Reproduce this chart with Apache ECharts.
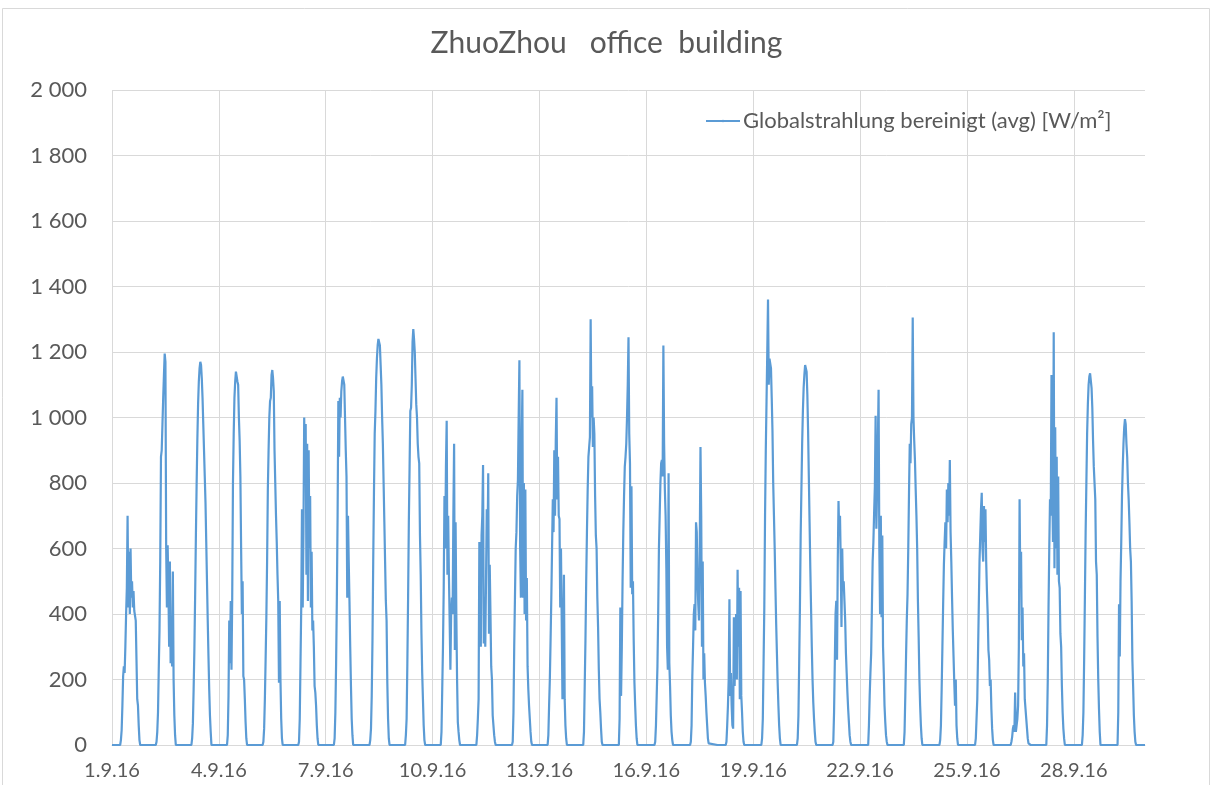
<!DOCTYPE html>
<html>
<head>
<meta charset="utf-8">
<script src="https://cdn.jsdelivr.net/npm/echarts@6/dist/echarts.min.js"></script>
<style>
  html, body { margin: 0; padding: 0; background: #fff; }
  #cht { width: 1213px; height: 785px; }
</style>
</head>
<body>
<div id="cht"></div>
<script>
// sample times of each day (hours), midnight points keep the line on zero at night
var sampleHours = [0, 5.5, 6, 6.5, 7, 7.5, 8, 8.5, 9, 9.5, 10, 10.5, 11, 11.5, 12, 12.5,
  13, 13.5, 14, 14.5, 15, 15.5, 16, 16.5, 17, 17.5, 18, 18.5, 19, 24];

// x tick labels, one every 3 days (72 h)
var tickLabels = ['1.9.16', '4.9.16', '7.9.16', '10.9.16', '13.9.16', '16.9.16',
  '19.9.16', '22.9.16', '25.9.16', '28.9.16'];

var seriesName = 'Globalstrahlung bereinigt (avg) [W/m\u00b2]';

// Globalstrahlung per day [W/m²]
var sep01 = [0, 0,15,45,120,210,240,220,300,400,480,700,420,590,400,600,450,500,420,470,410,410,380,260,140,120,60,15,0, 0];
var sep02 = [0, 0,10,40,100,230,350,560,880,900,980,1060,1130,1195,1170,600,420,610,480,300,560,250,380,240,530,200,90,30,0, 0];
var sep03 = [0, 0,20,66,170,290,450,630,790,930,1040,1110,1150,1170,1160,1120,1060,980,900,820,740,620,500,380,270,170,90,40,0, 0];
var sep04 = [0, 0,30,150,380,250,440,230,450,800,950,1060,1110,1140,1145,1110,1100,1000,930,820,600,400,500,210,200,140,70,20,0, 0];
var sep05 = [0, 0,10,50,140,260,390,560,780,900,1000,1050,1060,1130,1145,1120,1080,900,800,700,620,520,440,190,440,200,80,20,0, 0];
var sep06 = [0, 0,10,80,250,420,720,420,650,1000,820,980,520,920,440,900,600,760,420,590,350,380,300,180,160,120,60,20,0, 0];
var sep07 = [0, 0,20,100,250,450,700,1050,880,1060,1000,1080,1110,1125,1130,1100,1000,900,820,450,700,560,440,300,180,80,30,0,0, 0];
var sep08 = [0, 0,15,50,150,320,560,770,950,1020,1120,1180,1220,1240,1245,1220,1160,1100,1000,920,800,680,560,440,380,190,80,20,0, 0];
var sep09 = [0, 0,30,80,250,450,680,850,1020,1030,1100,1230,1270,1240,1200,1120,1040,1000,920,880,860,640,520,340,220,140,60,15,0, 0];
var sep10 = [0, 0,40,170,300,480,760,600,850,990,520,700,520,380,230,400,450,400,700,920,290,680,400,200,70,40,15,0,0, 0];
var sep11 = [0, 0,30,80,140,620,400,300,640,700,855,310,450,300,500,720,600,830,340,550,400,240,200,90,60,30,10,0,0, 0];
var sep12 = [0, 0,10,100,300,450,600,650,760,810,1000,1175,600,450,900,1085,450,800,400,780,380,510,240,170,120,80,40,10,0, 0];
var sep13 = [0, 0,30,120,200,320,450,600,750,650,900,700,930,1060,750,880,700,690,420,600,380,140,300,520,140,60,20,0,0, 0];
var sep14 = [0, 0,40,180,320,500,650,780,880,910,940,1300,1000,1095,910,1000,950,760,640,600,450,360,230,140,100,50,10,0,0, 0];
var sep15 = [0, 0,80,420,150,300,500,650,760,850,880,920,1000,1100,1245,950,860,480,790,460,500,320,190,120,60,20,0,0,0, 0];
var sep16 = [0, 0,10,60,150,240,400,600,700,800,860,870,820,1220,920,780,700,540,300,230,830,250,180,90,40,15,0,0,0, 0];
var sep17 = [0, 0,10,60,210,300,400,430,350,680,650,500,430,380,600,910,700,300,560,200,280,190,150,100,60,20,5,0,0, 0];
var sep18 = [0, 0,10,60,120,200,445,150,220,120,60,50,390,180,300,400,200,535,300,480,140,470,150,100,40,10,0,0,0, 0];
var sep19 = [0, 0,20,80,250,420,700,900,1050,1200,1360,1100,1180,1185,1150,1060,960,800,700,600,480,370,280,190,120,60,20,0,0, 0];
var sep20 = [0, 0,20,90,250,420,640,780,920,1020,1090,1130,1160,1165,1140,1070,960,820,680,540,420,300,200,130,80,40,10,0,0, 0];
var sep21 = [0, 0,10,100,250,400,440,260,560,745,640,700,560,360,600,470,500,440,380,280,220,160,110,70,30,10,0,0,0, 0];
var sep22 = [0, 0,60,150,220,280,420,560,620,710,790,1005,660,780,920,1085,600,400,700,390,640,300,220,120,70,30,10,0,0, 0];
var sep23 = [0, 0,40,150,270,380,460,600,770,920,860,980,1000,1305,1000,930,870,780,700,600,440,330,200,120,60,20,0,0,0, 0];
var sep24 = [0, 0,15,60,170,300,430,550,620,680,600,780,680,800,700,870,650,560,450,350,270,190,120,200,60,20,0,0,0, 0];
var sep25 = [0, 0,20,80,140,280,420,560,640,720,770,600,560,730,620,720,560,470,400,290,260,180,200,110,50,15,0,0,0, 0];
var sep26 = [0, 0,10,25,50,60,40,160,40,60,80,120,300,750,480,590,320,420,240,280,140,110,80,50,20,5,0,0,0, 0];
var sep27 = [0, 0,60,200,420,600,750,700,1130,800,620,1260,540,970,600,880,520,820,500,480,340,300,180,100,50,20,0,0,0, 0];
var sep28 = [0, 0,30,100,260,450,650,800,950,1040,1100,1125,1135,1130,1090,1030,930,850,800,750,560,520,330,200,110,40,0,0,0, 0];
var sep29 = [0, 0,100,430,270,500,620,760,850,920,970,995,980,920,880,800,750,680,600,560,440,260,180,90,40,10,0,0,0, 0];

var days = [sep01, sep02, sep03, sep04, sep05, sep06, sep07, sep08, sep09, sep10,
  sep11, sep12, sep13, sep14, sep15, sep16, sep17, sep18, sep19, sep20,
  sep21, sep22, sep23, sep24, sep25, sep26, sep27, sep28, sep29];

var points = [];
days.forEach(function (vals, d) {
  vals.forEach(function (v, i) {
    points.push([d * 24 + sampleHours[i], v]);
  });
});

var txt = '#595959';
var grd = '#d9d9d9';

var config = {
  animation: false,
  backgroundColor: '#fff',
  textStyle: { fontFamily: 'Lato' },
  title: {
    text: 'ZhuoZhou   office  building',
    left: 'center',
    top: 23,
    textStyle: { color: txt, fontSize: 30, fontWeight: 'normal', fontFamily: 'Lato' }
  },
  legend: {
    data: [seriesName],
    left: 700,
    top: 105,
    itemWidth: 34,
    itemHeight: 3,
    itemGap: 3,
    textStyle: { color: txt, fontSize: 22, fontFamily: 'Lato', padding: [0, 0, 0, -2] }
  },
  graphic: [{
    type: 'rect',
    shape: { x: 2.5, y: 8.5, width: 1207, height: 800 },
    style: { fill: 'none', stroke: grd, lineWidth: 1 },
    silent: true
  }],
  grid: { left: 112, top: 90, width: 1033, height: 655 },
  xAxis: {
    type: 'value',
    min: 0,
    max: 696,
    interval: 72,
    axisLine: { show: true, lineStyle: { color: grd } },
    axisTick: { show: false },
    splitLine: { show: true, showMaxLine: false, lineStyle: { color: grd } },
    axisLabel: {
      color: txt, fontSize: 20, margin: 16, showMaxLabel: false,
      formatter: function (v) { return tickLabels[Math.round(v / 72)] || ''; }
    }
  },
  yAxis: {
    type: 'value',
    min: 0,
    max: 2000,
    interval: 200,
    axisLine: { show: false },
    axisTick: { show: false },
    splitLine: { lineStyle: { color: grd } },
    axisLabel: {
      color: txt, fontSize: 22, margin: 25,
      formatter: function (v) {
        if (v < 1000) return String(v);
        return Math.floor(v / 1000) + ' ' + String(v % 1000).padStart(3, '0');
      }
    }
  },
  color: ['#5b9bd5'],
  series: [{
    name: seriesName,
    type: 'line',
    data: points,
    symbol: 'none',
    showSymbol: false,
    sampling: null,
    lineStyle: { width: 2.2, color: '#5b9bd5' }
  }]
};

window.onload = function () {
  var myChart = echarts.init(document.getElementById('cht'), null, { renderer: 'canvas' });
  myChart.setOption(config);
};
</script>
</body>
</html>
